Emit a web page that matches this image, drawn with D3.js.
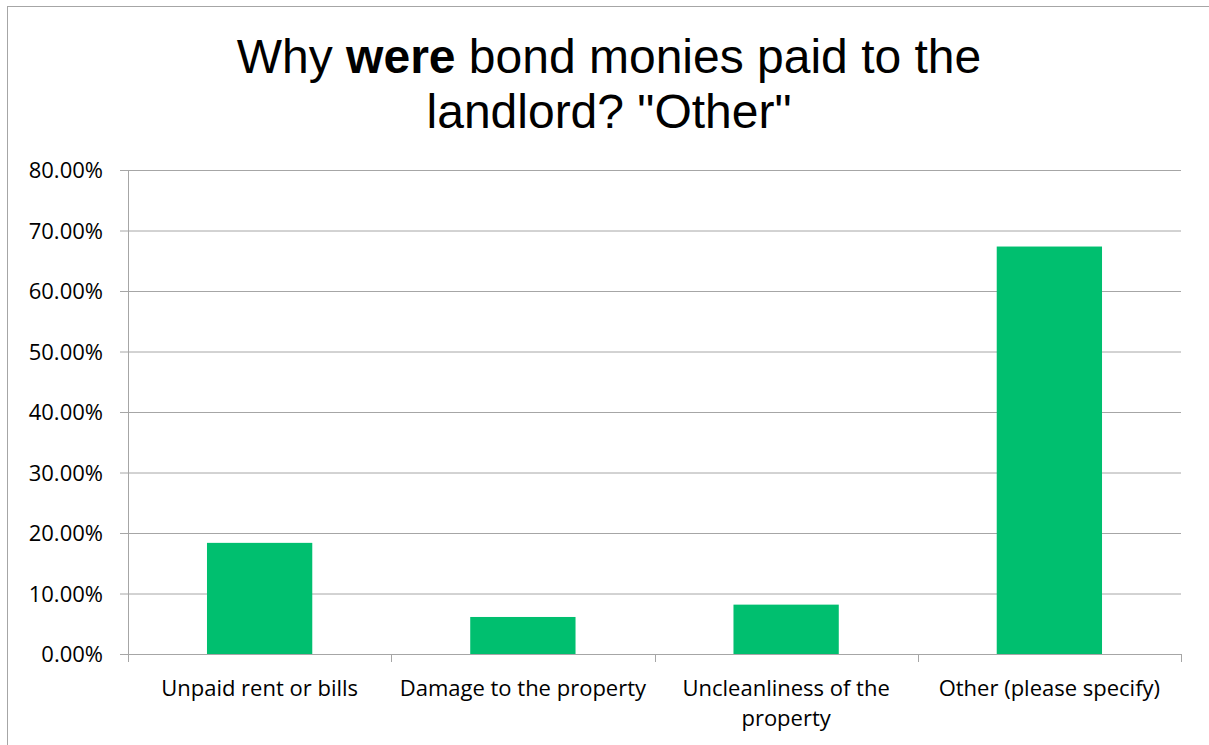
<!DOCTYPE html>
<html>
<head>
<meta charset="utf-8">
<script src="https://d3js.org/d3.v7.min.js"></script>
<style>
body { margin: 0; background: #fff; }
.tick text, .cat text { font-family: "Open Sans", "Noto Sans", sans-serif; fill: #000; }
.title { font-family: "Liberation Sans", Arial, sans-serif; fill: #000; }
</style>
</head>
<body>
<div id="chart"></div>
<script>
// data
var categories = ["Unpaid rent or bills", "Damage to the property", "Uncleanliness of the\nproperty", "Other (please specify)"];
var values = [0.1837, 0.0612, 0.0816, 0.6735];
var yTicks = [0, 0.1, 0.2, 0.3, 0.4, 0.5, 0.6, 0.7, 0.8];

var width = 1209, height = 745;
var plotLeft = 128, plotRight = 1181, plotTop = 170, plotBottom = 654;

var svg = d3.select("#chart").append("svg")
  .attr("width", width).attr("height", height);

// outer frame
svg.append("rect")
  .attr("x", 7.5).attr("y", 6.5)
  .attr("width", 1210).attr("height", 750)
  .attr("fill", "none").attr("stroke", "#a6a6a6").attr("stroke-width", 1);

// title
var title = svg.append("text").attr("class", "title")
  .attr("text-anchor", "middle").attr("font-size", 48);
var l1 = title.append("tspan").attr("x", 609).attr("y", 73);
l1.append("tspan").text("Why ");
l1.append("tspan").attr("font-weight", "bold").text("were");
l1.append("tspan").text(" bond monies paid to the");
title.append("tspan").attr("x", 609).attr("y", 128).text("landlord? \"Other\"");

var x = d3.scaleBand().domain(categories).range([plotLeft, plotRight]).paddingInner(0.6).paddingOuter(0.3);
var xOuter = d3.scaleBand().domain(categories).range([plotLeft, plotRight]);
var y = d3.scaleLinear().domain([0, 0.8]).range([plotBottom, plotTop]);

// y axis with gridlines
var yAxis = d3.axisLeft(y).tickValues(yTicks)
  .tickFormat(function(d) { return (d * 100).toFixed(2) + "%"; })
  .tickSize(-(plotRight - plotLeft));
var gy = svg.append("g").attr("transform", "translate(" + plotLeft + ",0)").call(yAxis);
gy.select(".domain").remove();
gy.selectAll(".tick line").attr("stroke", "#a6a6a6").attr("x1", -8).attr("x2", plotRight - plotLeft);
gy.selectAll(".tick text").attr("font-size", 22).attr("x", -25).attr("dy", "0.35em");
svg.append("line")
  .attr("x1", plotLeft + 0.5).attr("x2", plotLeft + 0.5)
  .attr("y1", plotTop).attr("y2", plotBottom)
  .attr("stroke", "#a6a6a6");

// bars
svg.selectAll("rect.bar").data(values).enter().append("rect")
  .attr("class", "bar")
  .attr("x", function(d, i) { return x(categories[i]); })
  .attr("width", x.bandwidth())
  .attr("y", function(d) { return y(d); })
  .attr("height", function(d) { return plotBottom - y(d); })
  .attr("fill", "#00bf6f");

// x axis line and category separators
svg.append("line")
  .attr("x1", plotLeft).attr("x2", plotRight)
  .attr("y1", plotBottom + 0.5).attr("y2", plotBottom + 0.5)
  .attr("stroke", "#a6a6a6");
var seps = categories.map(function(c) { return xOuter(c); }).concat([plotRight]);
svg.selectAll("line.sep").data(seps).enter().append("line")
  .attr("class", "sep")
  .attr("x1", function(d) { return Math.round(d) + 0.5; }).attr("x2", function(d) { return Math.round(d) + 0.5; })
  .attr("y1", plotBottom).attr("y2", plotBottom + 8)
  .attr("stroke", "#a6a6a6");

// category labels
var cat = svg.append("g").attr("class", "cat");
categories.forEach(function(c) {
  var t = cat.append("text").attr("text-anchor", "middle").attr("font-size", 22);
  c.split("\n").forEach(function(line, j) {
    t.append("tspan")
      .attr("x", xOuter(c) + xOuter.bandwidth() / 2)
      .attr("y", 696 + j * 30)
      .text(line);
  });
});
</script>
</body>
</html>
